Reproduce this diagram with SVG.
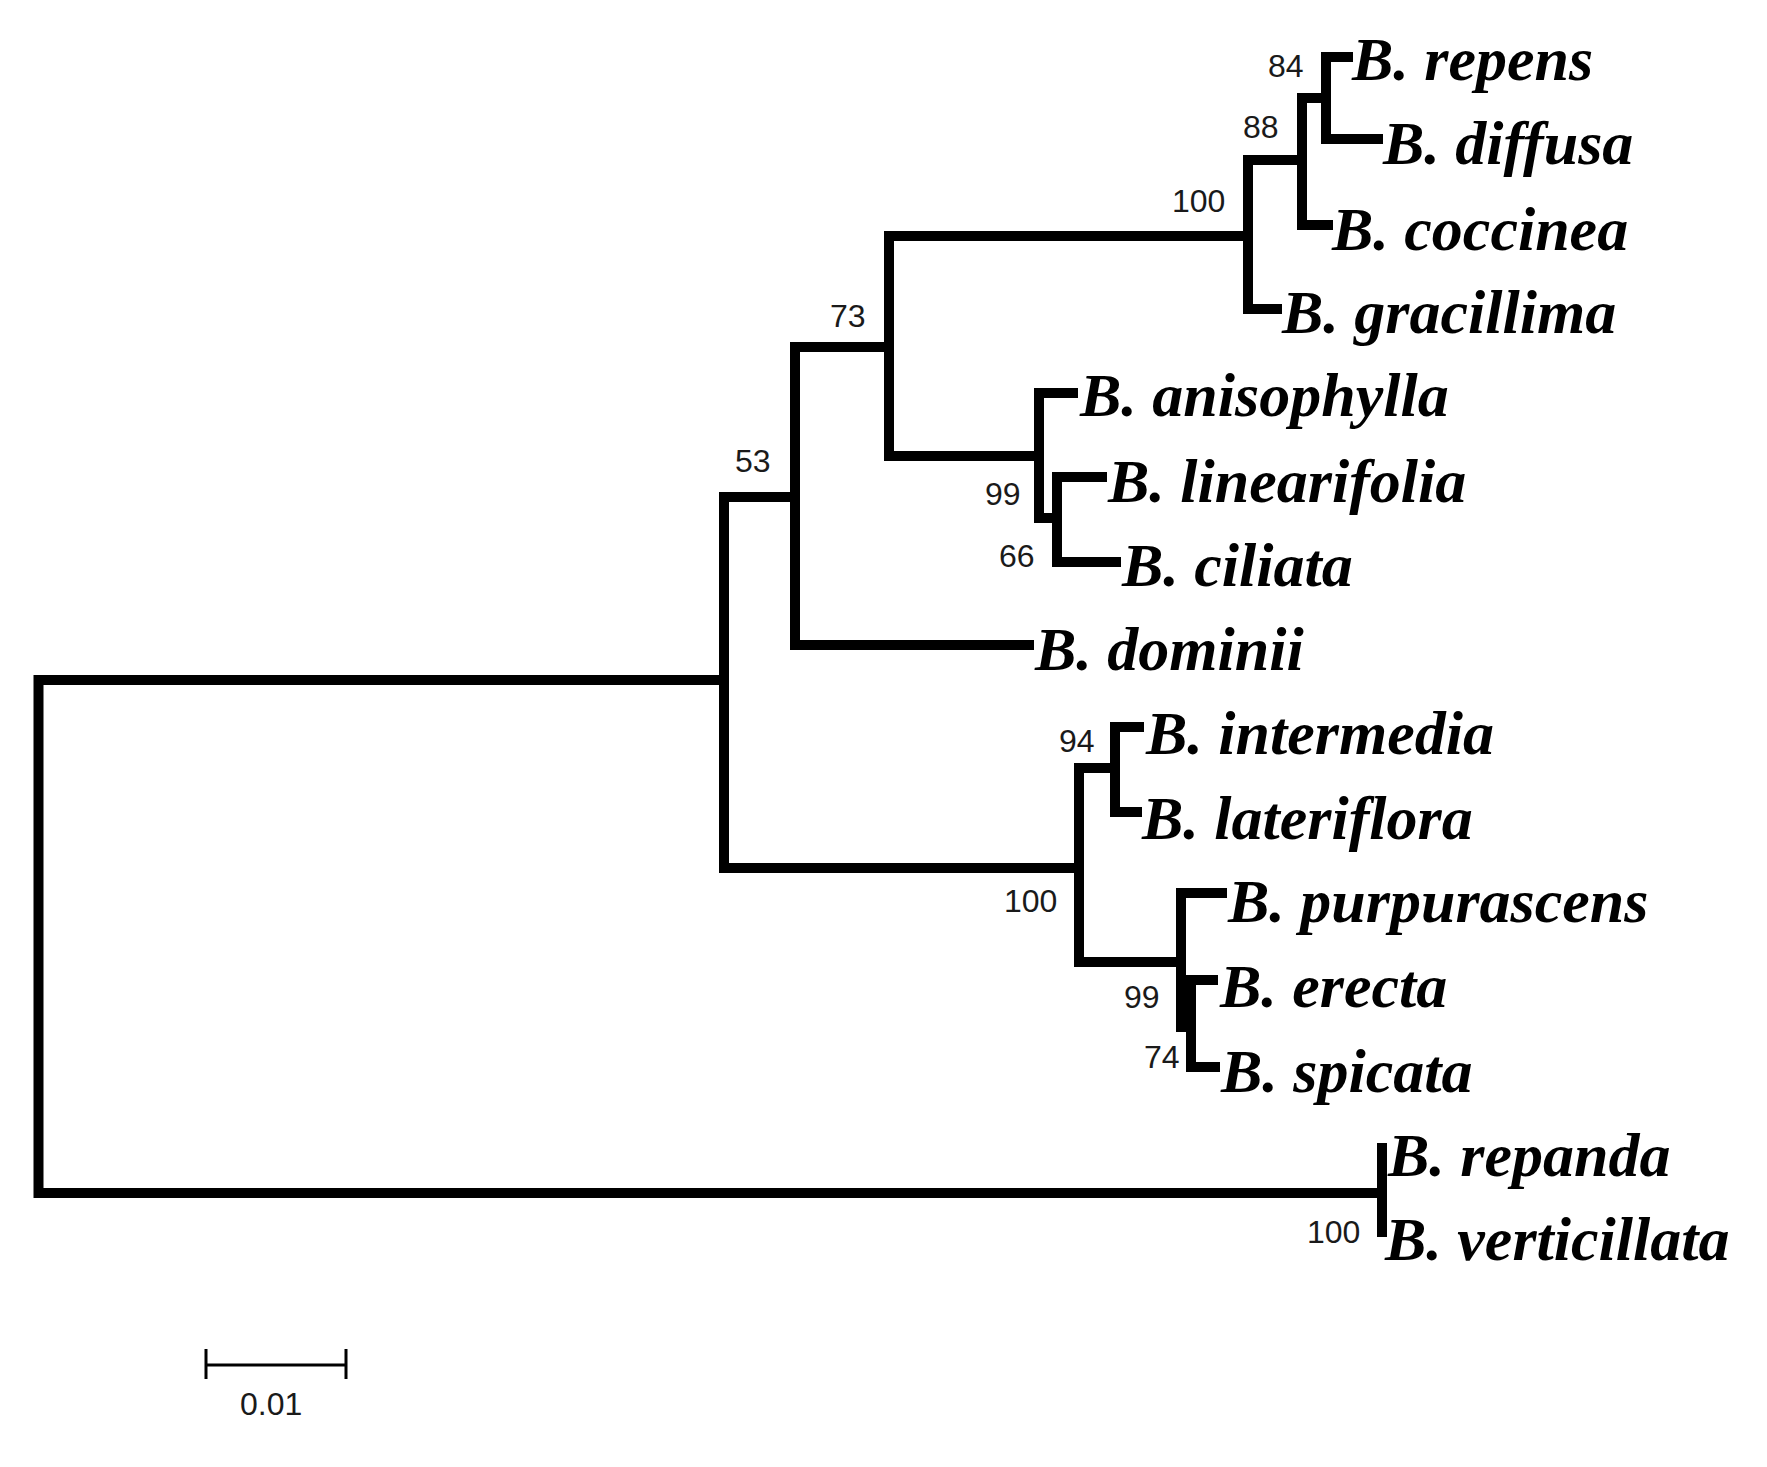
<svg xmlns="http://www.w3.org/2000/svg" width="1767" height="1467" viewBox="0 0 1767 1467">
<style>
.br{fill:none;stroke:#000;stroke-width:10;stroke-linejoin:miter;stroke-linecap:butt}
.sp{font-family:"Liberation Serif",serif;font-style:italic;font-weight:bold;font-size:62px;fill:#000}
.bs{font-family:"Liberation Sans",sans-serif;font-size:32px;fill:#1a1a1a}
.sc{fill:none;stroke:#000;stroke-width:3}
</style>
<rect width="1767" height="1467" fill="#fff"/>
<g id="connectors">
<path class="br" d="M724 680 H38.5 V1193 H1382"/>
<path class="br" d="M795 497 H724 V868 H1079"/>
<path class="br" d="M889 347 H795 V645 H1034"/>
<path class="br" d="M1250 236 H889 V456 H1039"/>
<path class="br" d="M1302 160 H1248 V309 H1282"/>
<path class="br" d="M1326 98 H1302 V225 H1333"/>
<path class="br" d="M1353 57 H1326 V139 H1383"/>
<path class="br" d="M1078 393 H1039 V518 H1057"/>
<path class="br" d="M1107 477 H1057 V562 H1121"/>
<path class="br" d="M1115 768 H1079 V962 H1181"/>
<path class="br" d="M1144 727 H1115 V812 H1142"/>
<path class="br" d="M1227 893 H1181 V1027 H1191"/>
<path class="br" d="M1218 980 H1191 V1067 H1220"/>
<path class="br" d="M1382 1143 V1237"/>
</g>
<g id="leaf-repens"><text class="sp" x="1352" y="80">B. repens</text></g>
<g id="leaf-diffusa"><text class="sp" x="1383" y="164">B. diffusa</text></g>
<g id="leaf-coccinea"><text class="sp" x="1332" y="250">B. coccinea</text></g>
<g id="leaf-gracillima"><text class="sp" x="1282" y="333">B. gracillima</text></g>
<g id="leaf-anisophylla"><text class="sp" x="1080" y="416">B. anisophylla</text></g>
<g id="leaf-linearifolia"><text class="sp" x="1108" y="502">B. linearifolia</text></g>
<g id="leaf-ciliata"><text class="sp" x="1122" y="586">B. ciliata</text></g>
<g id="leaf-dominii"><text class="sp" x="1035" y="670">B. dominii</text></g>
<g id="leaf-intermedia"><text class="sp" x="1146" y="754">B. intermedia</text></g>
<g id="leaf-lateriflora"><text class="sp" x="1142" y="839">B. lateriflora</text></g>
<g id="leaf-purpurascens"><text class="sp" x="1228" y="922">B. purpurascens</text></g>
<g id="leaf-erecta"><text class="sp" x="1220" y="1007">B. erecta</text></g>
<g id="leaf-spicata"><text class="sp" x="1221" y="1092">B. spicata</text></g>
<g id="leaf-repanda"><text class="sp" x="1388" y="1176">B. repanda</text></g>
<g id="leaf-verticillata"><text class="sp" x="1385" y="1260">B. verticillata</text></g>
<g id="node-84"><text class="bs" x="1268" y="77">84</text></g>
<g id="node-88"><text class="bs" x="1243" y="138">88</text></g>
<g id="node-100a"><text class="bs" x="1172" y="212">100</text></g>
<g id="node-73"><text class="bs" x="830" y="327">73</text></g>
<g id="node-53"><text class="bs" x="735" y="472">53</text></g>
<g id="node-99a"><text class="bs" x="985" y="505">99</text></g>
<g id="node-66"><text class="bs" x="999" y="567">66</text></g>
<g id="node-94"><text class="bs" x="1059" y="752">94</text></g>
<g id="node-100b"><text class="bs" x="1004" y="912">100</text></g>
<g id="node-99b"><text class="bs" x="1124" y="1008">99</text></g>
<g id="node-74"><text class="bs" x="1144" y="1068">74</text></g>
<g id="node-100c"><text class="bs" x="1307" y="1243">100</text></g>
<g id="scale-bar">
<path class="sc" d="M206 1365 H346 M206 1349 V1379 M346 1349 V1379"/>
<text class="bs" x="240" y="1415">0.01</text>
</g>
</svg>
